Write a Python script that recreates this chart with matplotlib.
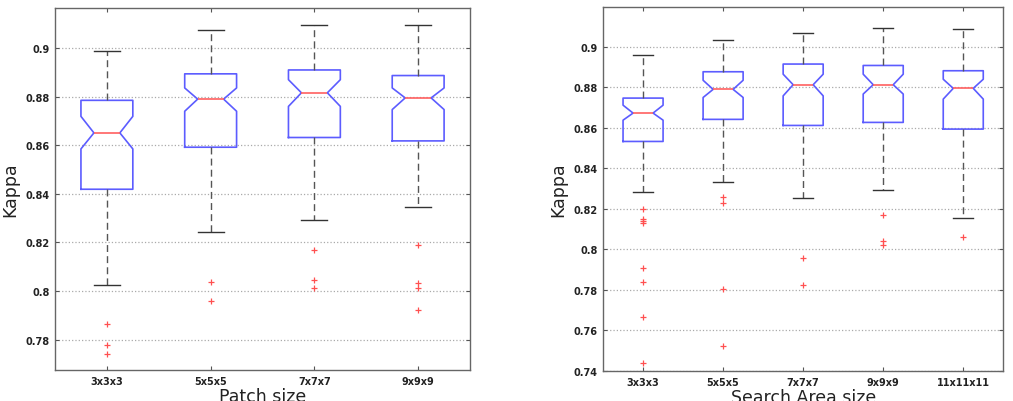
import numpy as np
import matplotlib
matplotlib.use('Agg')
import matplotlib.pyplot as plt

# Patch size experiment
patchLabels = ['3x3x3', '5x5x5', '7x7x7', '9x9x9']
patchWhisHi = [0.899, 0.9075, 0.9093, 0.9093]
patchQ3 = [0.8785, 0.8894, 0.8910, 0.8887]
patchMed = [0.8651, 0.8790, 0.8816, 0.8795]
patchQ1 = [0.8419, 0.8592, 0.8632, 0.8618]
patchWhisLo = [0.8025, 0.8241, 0.8291, 0.8347]
patchCiLo = [0.8585, 0.8740, 0.8760, 0.8747]
patchCiHi = [0.8719, 0.8836, 0.8870, 0.8836]
patchFliers = [[0.7864, 0.7778, 0.7740],
               [0.8036, 0.7958],
               [0.8168, 0.8044, 0.8014],
               [0.8188, 0.8032, 0.8014, 0.7921]]

# Search area experiment
areaLabels = ['3x3x3', '5x5x5', '7x7x7', '9x9x9', '11x11x11']
areaWhisHi = [0.8959, 0.9033, 0.9069, 0.9092, 0.9087]
areaQ3 = [0.8747, 0.8877, 0.8915, 0.8908, 0.8882]
areaMed = [0.8673, 0.8790, 0.8813, 0.8813, 0.8795]
areaQ1 = [0.8533, 0.8642, 0.8612, 0.8627, 0.8594]
areaWhisLo = [0.8282, 0.8334, 0.8255, 0.8293, 0.8155]
areaCiLo = [0.8638, 0.8750, 0.8758, 0.8767, 0.8742]
areaCiHi = [0.8712, 0.8835, 0.8865, 0.8865, 0.8840]
areaFliers = [[0.8199, 0.8150, 0.8140, 0.8130, 0.7907, 0.7841, 0.7667, 0.7441],
              [0.8257, 0.8228, 0.7805, 0.7522],
              [0.7959, 0.7826],
              [0.8170, 0.8043, 0.8022],
              [0.8061]]


def buildStats(hi, q3, med, q1, lo, cilo, cihi, fliers):
    stats = []
    for i in range(len(med)):
        stats.append({'whishi': hi[i], 'q3': q3[i], 'med': med[i], 'q1': q1[i],
                      'whislo': lo[i], 'cilo': cilo[i], 'cihi': cihi[i],
                      'fliers': np.array(fliers[i])})
    return stats


def drawBoxes(ax, stats, labels, ylim, yticks, xlabel):
    pos = list(range(1, len(labels) + 1))
    ax.bxp(stats, positions=pos, widths=0.5, shownotches=True,
           boxprops=dict(color='#5c5cff', linewidth=1.2),
           medianprops=dict(color='#ff6060', linewidth=1.2),
           whiskerprops=dict(color='#555555', linestyle=(0, (5, 3)), linewidth=1.0),
           capprops=dict(color='#333333', linewidth=1.0),
           flierprops=dict(marker='+', markeredgecolor='#ff5050', markersize=4,
                           markeredgewidth=0.9, linestyle='none'))
    ax.set_xlim(0.5, len(labels) + 0.5)
    ax.set_ylim(*ylim)
    ax.set_yticks(yticks)
    ax.set_yticklabels([('%.2f' % t).rstrip('0') for t in yticks])
    ax.set_xticks(pos)
    ax.set_xticklabels(labels)
    for lab in ax.get_xticklabels() + ax.get_yticklabels():
        lab.set_fontsize(7)
        lab.set_fontweight('bold')
        lab.set_color('#222222')
    ax.tick_params(direction='in', length=3, top=True, right=True, color='#555555', pad=4)
    ax.yaxis.grid(True, linestyle=':', color='#aaaaaa', linewidth=0.9)
    for sp in ax.spines.values():
        sp.set_color('#666666')
        sp.set_linewidth(1.0)
    ax.set_ylabel('Kappa', fontsize=12.5, color='#222222', labelpad=4)
    ax.set_xlabel(xlabel, fontsize=12.5, color='#222222', labelpad=1)


def main():
    fig = plt.figure(figsize=(10.13, 4.02), dpi=100)
    axL = fig.add_axes([0.0543, 0.0771, 0.4097, 0.9005])
    axR = fig.add_axes([0.5953, 0.0746, 0.3951, 0.9047])

    patchStats = buildStats(patchWhisHi, patchQ3, patchMed, patchQ1, patchWhisLo,
                            patchCiLo, patchCiHi, patchFliers)
    areaStats = buildStats(areaWhisHi, areaQ3, areaMed, areaQ1, areaWhisLo,
                           areaCiLo, areaCiHi, areaFliers)

    drawBoxes(axL, patchStats, patchLabels, (0.7675, 0.9165),
              [0.78, 0.80, 0.82, 0.84, 0.86, 0.88, 0.90], 'Patch size')
    drawBoxes(axR, areaStats, areaLabels, (0.74, 0.9195),
              [0.74, 0.76, 0.78, 0.80, 0.82, 0.84, 0.86, 0.88, 0.90], 'Search Area size')

    fig.savefig('out.png', dpi=100)


if __name__ == '__main__':
    main()
